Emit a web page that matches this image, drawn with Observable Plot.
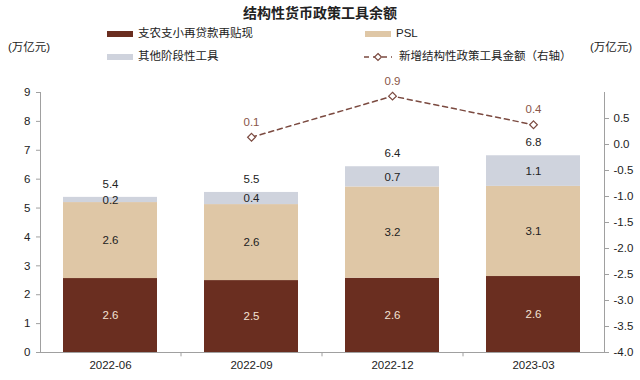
<!DOCTYPE html>
<html>
<head>
<meta charset="utf-8">
<script src="https://cdn.jsdelivr.net/npm/d3@7"></script>
<script src="https://cdn.jsdelivr.net/npm/@observablehq/plot@0.6"></script>
<style>
  body { margin: 0; background: #fff; font-family: "Liberation Sans", "Noto Sans CJK SC", sans-serif; }
  #wrap { width: 640px; height: 380px; position: relative; }
  #head { position: relative; width: 640px; height: 70px; color: #222; }
  .t { position: absolute; white-space: nowrap; font-size: 11.5px; line-height: 1; }
  .title { font-weight: bold; font-size: 14px; left: 0; width: 640px; text-align: center; top: 6px; }
  .sw { position: absolute; width: 26px; height: 6px; }
</style>
</head>
<body>
<div id="wrap">
  <div id="head"></div>
  <div id="chart"></div>
</div>
<script>
// ---- data ----
const categories = ["2022-06", "2022-09", "2022-12", "2023-03"];
const seriesNames = ["支农支小再贷款再贴现", "PSL", "其他阶段性工具"];
const relending = [2.56, 2.49, 2.57, 2.63];
const psl = [2.63, 2.63, 3.16, 3.12];
const otherTools = [0.18, 0.42, 0.70, 1.06];
const lineName = "新增结构性政策工具金额（右轴）";
const newTools = [null, 0.14, 0.93, 0.38];
const leftTicks = [0, 1, 2, 3, 4, 5, 6, 7, 8, 9];
const rightTicks = [-4.0, -3.5, -3.0, -2.5, -2.0, -1.5, -1.0, -0.5, 0.0, 0.5];
const title = "结构性货币政策工具余额";
const unitLabel = "(万亿元)";

const colors = ["#6a2e20", "#dfc7a6", "#cfd3dd"];
const lineColor = "#7b4a40";

// ---- header (title + legend) ----
const head = document.getElementById("head");
function addText(txt, cls, left, top) {
  const el = document.createElement("div");
  el.className = "t " + (cls || "");
  el.textContent = txt;
  if (left != null) el.style.left = left + "px";
  el.style.top = top + "px";
  head.appendChild(el);
  return el;
}
function addSwatch(color, left, top) {
  const el = document.createElement("div");
  el.className = "sw";
  el.style.background = color;
  el.style.left = left + "px";
  el.style.top = top + "px";
  head.appendChild(el);
}
addText(title, "title", null, 6);
addSwatch(colors[0], 107, 31);
addText(seriesNames[0], "", 138, 28);
addSwatch(colors[1], 365, 31);
addText(seriesNames[1], "", 396, 28);
addSwatch(colors[2], 107, 54);
addText(seriesNames[2], "", 138, 51);
// line legend icon
const icon = document.createElementNS("http://www.w3.org/2000/svg", "svg");
icon.setAttribute("width", 30); icon.setAttribute("height", 12);
icon.style.position = "absolute"; icon.style.left = "364px"; icon.style.top = "51px";
icon.innerHTML = `<line x1="0" y1="6" x2="28" y2="6" stroke="${lineColor}" stroke-width="1.5" stroke-dasharray="5,4"/>
<path d="M14,2.5 L17.5,6 L14,9.5 L10.5,6 Z" fill="#fff" stroke="${lineColor}" stroke-width="1.2"/>`;
head.appendChild(icon);
addText(lineName, "", 399, 51);
addText(unitLabel, "", 8, 42);
addText(unitLabel, "", 590, 42);

// ---- build tables ----
const table = [];
categories.forEach((c, i) => {
  [relending, psl, otherTools].forEach((arr, k) => {
    table.push({ date: c, series: seriesNames[k], value: arr[i] });
  });
});
const totals = categories.map((c, i) => ({ date: c, total: relending[i] + psl[i] + otherTools[i] }));
const lineData = categories.map((c, i) => ({ date: c, v: newTools[i] })).filter(d => d.v != null);

// right axis maps [-4, 1] onto left [0, 9]
const toLeft = v => (v + 4) * 9 / 5;
const fromLeft = y => y * 5 / 9 - 4;
const fmt1 = v => { const r = Math.round(v * 10) / 10; return (r === 0 ? 0 : r).toFixed(1); };

const W = 640, ML = 40, MR = 36;
const halfStep = (W - ML - MR) / categories.length / 2;

const chart = Plot.plot({
  width: W,
  height: 310,
  marginTop: 22,
  marginBottom: 28,
  marginLeft: ML,
  marginRight: MR,
  style: { fontFamily: "Liberation Sans, Noto Sans CJK SC, sans-serif", fontSize: "11px", color: "#222" },
  x: { domain: categories, paddingInner: 0.333, paddingOuter: 0.1665, label: null },
  y: { domain: [0, 9], label: null },
  color: { domain: seriesNames, range: colors },
  marks: [
    Plot.barY(table, { x: "date", y: "value", fill: "series", order: seriesNames }),
    Plot.text(table, Plot.stackY({
      x: "date", y: "value", order: seriesNames,
      text: d => fmt1(d.value),
      fill: d => d.series === seriesNames[0] ? "#f2e2d4" : "#222",
      fontSize: 11.5
    })),
    Plot.text(totals, { x: "date", y: "total", text: d => fmt1(d.total), dy: -13, fill: "#222", fontSize: 11.5 }),
    Plot.ruleY([0], { stroke: "#a0a0a0" }),
    Plot.ruleX(categories.slice(0, -1), { x: d => d, dx: halfStep, y1: 0, y2: -0.15, stroke: "#a0a0a0" }),
    Plot.frame({ anchor: "left", stroke: "#a0a0a0" }),
    Plot.frame({ anchor: "right", stroke: "#a0a0a0" }),
    Plot.line(lineData, { x: "date", y: d => toLeft(d.v), stroke: lineColor, strokeWidth: 1.5, strokeDasharray: "5,4" }),
    Plot.dot(lineData, { x: "date", y: d => toLeft(d.v), symbol: "diamond2", r: 3.5, fill: "#fff", stroke: lineColor, strokeWidth: 1.2 }),
    Plot.text(lineData, { x: "date", y: d => toLeft(d.v), text: d => fmt1(d.v), dy: -15, fill: "#8a5648", fontSize: 11.5 }),
    Plot.axisY(leftTicks, { anchor: "left", tickSize: 4, tickPadding: 6, label: null, stroke: "#a0a0a0", fill: "#222", fontSize: 11.5 }),
    Plot.axisY(rightTicks.map(toLeft), { anchor: "right", tickSize: 4, tickPadding: 5, label: null, tickFormat: y => fmt1(fromLeft(y)), stroke: "#a0a0a0", fill: "#222", fontSize: 11.5 }),
    Plot.axisX({ tickSize: 0, tickPadding: 8, label: null, fill: "#222", fontSize: 11.5 })
  ]
});
document.getElementById("chart").appendChild(chart);
</script>
</body>
</html>
